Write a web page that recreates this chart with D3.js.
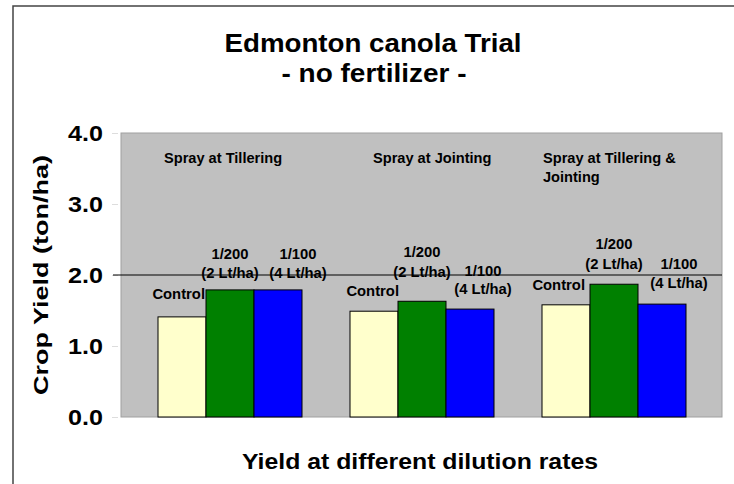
<!DOCTYPE html>
<html>
<head>
<meta charset="utf-8">
<script src="https://cdn.jsdelivr.net/npm/d3@7"></script>
<style>
  body { margin: 0; background: #fff; }
  svg text { font-family: "Liberation Sans", Arial, sans-serif; font-weight: bold; fill: #000; }
</style>
</head>
<body>
<div id="chart"></div>
<script>
// data
var groups = ["Spray at Tillering", "Spray at Jointing", "Spray at Tillering & Jointing"];
var treatments = ["Control", "1/200", "1/100"];
var control = [1.41, 1.49, 1.58];
var dil200 = [1.79, 1.63, 1.87];
var dil100 = [1.79, 1.52, 1.59];
var yTicks = [0, 1, 2, 3, 4];
var refValue = 2.0;

var width = 734, height = 484;
var colors = { "Control": "#ffffcc", "1/200": "#008000", "1/100": "#0000ff" };

var svg = d3.select("#chart").append("svg")
  .attr("width", width)
  .attr("height", height);

// outer frame
svg.append("path")
  .attr("d", "M13,484 V6 H734")
  .attr("fill", "none")
  .attr("stroke", "#444")
  .attr("stroke-width", 1.5);

var plot = { left: 121, right: 722, top: 133, bottom: 417 };

var y = d3.scaleLinear().domain([0, 4]).range([plot.bottom, plot.top]);
var x0 = d3.scaleBand().domain(groups).range([134, 710]).paddingInner(0.25).paddingOuter(0.125);
var x1 = d3.scaleBand().domain(treatments).range([0, x0.bandwidth()]);

svg.append("rect")
  .attr("x", plot.left).attr("y", plot.top)
  .attr("width", plot.right - plot.left).attr("height", plot.bottom - plot.top)
  .attr("fill", "#c0c0c0")
  .attr("stroke", "#a0a0a0").attr("stroke-width", 1);

// y axis labels
var yAxis = d3.axisLeft(y).tickValues(yTicks).tickFormat(d3.format(".1f")).tickSize(6).tickPadding(10);
var ya = svg.append("g").attr("transform", "translate(" + (plot.left - 3) + ",0)").call(yAxis);
ya.select(".domain").remove();
ya.selectAll(".tick line").attr("stroke", "#ddd");
ya.selectAll(".tick text")
  .style("font-size", "22px")
  .attr("dy", "0.36em")
  .attr("x", -15)
  .attr("textLength", 35)
  .attr("lengthAdjust", "spacingAndGlyphs");

var rows = groups.map(function (g, i) {
  return { group: g, values: [
    { t: "Control", v: control[i] },
    { t: "1/200", v: dil200[i] },
    { t: "1/100", v: dil100[i] }
  ] };
});

var gSel = svg.selectAll(".grp").data(rows).enter().append("g")
  .attr("class", "grp")
  .attr("transform", function (d) { return "translate(" + x0(d.group) + ",0)"; });

gSel.selectAll("rect").data(function (d) { return d.values; }).enter().append("rect")
  .attr("x", function (d) { return x1(d.t); })
  .attr("y", function (d) { return y(d.v); })
  .attr("width", x1.bandwidth())
  .attr("height", function (d) { return y(0) - y(d.v); })
  .attr("fill", function (d) { return colors[d.t]; })
  .attr("stroke", "#000").attr("stroke-width", 1);

// reference line at 2.0
svg.append("line")
  .attr("x1", plot.left - 8).attr("x2", plot.right)
  .attr("y1", y(refValue)).attr("y2", y(refValue))
  .attr("stroke", "#000").attr("stroke-width", 1);

// group headings
var headLines = [["Spray at Tillering"], ["Spray at Jointing"], ["Spray at Tillering &", "Jointing"]];
var headX = [164, 373, 543];
headLines.forEach(function (lines, i) {
  lines.forEach(function (s, j) {
    svg.append("text")
      .attr("x", headX[i]).attr("y", 163 + j * 19)
      .style("font-size", "14.6px")
      .text(s);
  });
});

// bar labels: text lines per treatment, offsets from bar top per group
var labelLines = [["Control"], ["1/200", "(2 Lt/ha)"], ["1/100", "(4 Lt/ha)"]];
var labelDy = [
  [[-18], [-31, -12], [-31, -12]],
  [[-15], [-44, -24], [-33, -15]],
  [[-15], [-35, -15], [-35, -16]]
];
var labelDx = [
  [-1, 0, 20],
  [1, 0, 13],
  [-5, 0, 17]
];
rows.forEach(function (r, gi) {
  r.values.forEach(function (d, ti) {
    var bx = x0(r.group) + x1(d.t);
    var isCtrl = ti === 0;
    var tx = (isCtrl ? bx + x1.bandwidth() : bx + x1.bandwidth() / 2) + labelDx[gi][ti];
    labelLines[ti].forEach(function (s, li) {
      svg.append("text")
        .attr("x", tx)
        .attr("y", y(d.v) + labelDy[gi][ti][li])
        .attr("text-anchor", isCtrl ? "end" : "middle")
        .style("font-size", "14.8px")
        .text(s);
    });
  });
});

// titles
svg.append("text").attr("x", 373).attr("y", 52).attr("text-anchor", "middle")
  .style("font-size", "26.5px")
  .attr("textLength", 297).attr("lengthAdjust", "spacingAndGlyphs")
  .text("Edmonton canola Trial");
svg.append("text").attr("x", 374).attr("y", 82).attr("text-anchor", "middle")
  .style("font-size", "26.5px")
  .attr("textLength", 185).attr("lengthAdjust", "spacingAndGlyphs")
  .text("- no fertilizer -");

svg.append("text")
  .attr("transform", "translate(48,275) rotate(-90)")
  .attr("text-anchor", "middle")
  .style("font-size", "20px")
  .attr("textLength", 240).attr("lengthAdjust", "spacingAndGlyphs")
  .text("Crop Yield (ton/ha)");

svg.append("text").attr("x", 420).attr("y", 469).attr("text-anchor", "middle")
  .style("font-size", "22px")
  .attr("textLength", 356).attr("lengthAdjust", "spacingAndGlyphs")
  .text("Yield at different dilution rates");
</script>
</body>
</html>
